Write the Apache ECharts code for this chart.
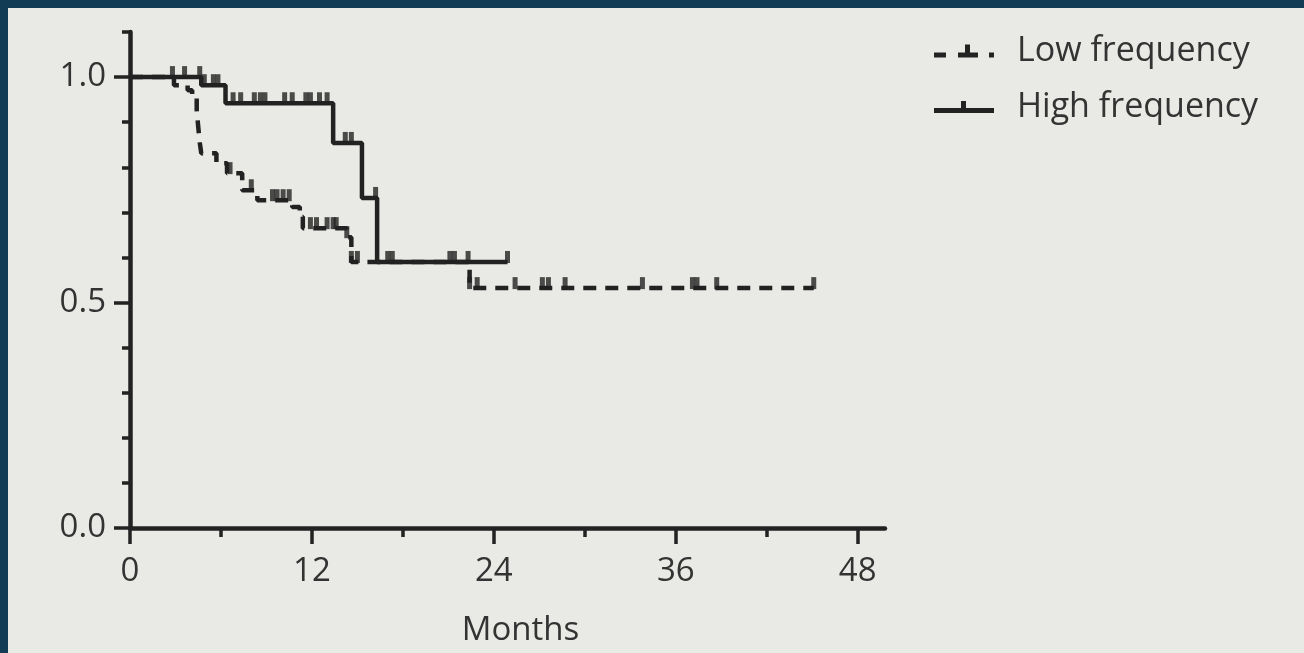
<!DOCTYPE html>
<html>
<head>
<meta charset="utf-8">
<script src="https://cdn.jsdelivr.net/npm/echarts@6/dist/echarts.min.js"></script>
<style>
  html, body { margin: 0; padding: 0; background: #123c55; width: 1304px; height: 653px; overflow: hidden; }
  #chart { position: absolute; left: 8px; top: 8px; width: 1296px; height: 645px; background: #e9e9e6; }
</style>
</head>
<body>
<div id="chart"></div>
<script>
// ---- Data ----
const seriesNames = ['Low frequency', 'High frequency'];

// Low frequency: event times (months) and survival after each step
const lowTimes = [0, 2.9, 3.8, 4.1, 4.4, 4.5, 4.6, 4.7, 5.7, 6.4, 7.4, 8.4, 10.7, 11.2, 11.4, 14.3, 14.6, 22.4, 45.1];
const lowSurv  = [1.0, 0.982, 0.971, 0.955, 0.927, 0.89, 0.855, 0.831, 0.809, 0.787, 0.749, 0.727, 0.712, 0.690, 0.665, 0.645, 0.590, 0.532, 0.532];
// Low frequency censored observations
const lowCensorTimes = [2.8, 6.6, 8.0, 9.4, 9.7, 10.1, 10.5, 11.9, 12.3, 13.0, 13.4, 13.6, 14.3, 14.6, 15.0, 22.4, 22.9, 25.4, 27.2, 27.6, 28.7, 33.8, 37.1, 37.4, 38.7, 45.1];
const lowCensorSurv  = [1.0, 0.787, 0.749, 0.727, 0.727, 0.727, 0.727, 0.665, 0.665, 0.665, 0.665, 0.665, 0.645, 0.590, 0.590, 0.532, 0.532, 0.532, 0.532, 0.532, 0.532, 0.532, 0.532, 0.532, 0.532, 0.532];

// High frequency
const highTimes = [0, 4.7, 6.3, 13.4, 15.3, 16.3, 24.9];
const highSurv  = [1.0, 0.982, 0.942, 0.854, 0.732, 0.590, 0.590];
const highCensorTimes = [3.6, 4.6, 4.9, 5.5, 5.8, 6.8, 7.3, 8.2, 8.6, 8.9, 10.2, 10.7, 11.6, 11.9, 12.5, 13.0, 14.2, 14.6, 16.2, 17.0, 17.3, 21.1, 21.4, 22.3, 24.9];
const highCensorSurv  = [1.0, 1.0, 0.982, 0.982, 0.982, 0.942, 0.942, 0.942, 0.942, 0.942, 0.942, 0.942, 0.942, 0.942, 0.942, 0.942, 0.854, 0.854, 0.732, 0.590, 0.590, 0.590, 0.590, 0.590, 0.590];

// Axis ticks
const xMajorTicks = [0, 12, 24, 36, 48];
const xMinorTicks = [6, 18, 30, 42];
const yLabelTicks = [0, 0.5, 1.0];
const xAxisName = 'Months';

// ---- Build ----
const zip = (a, b) => a.map((v, i) => [v, b[i]]);
const ink = '#222222';
const textCol = '#333333';
const font = 'Open Sans';

const chart = echarts.init(document.getElementById('chart'));
chart.setOption({
  animation: false,
  backgroundColor: 'transparent',
  grid: { left: 122, top: 24, width: 755, height: 496 },
  legend: {
    orient: 'vertical',
    left: 921, top: 21,
    itemGap: 22,
    itemWidth: 60, itemHeight: 16,
    selectedMode: false,
    textStyle: { fontFamily: font, fontSize: 34, color: textCol, padding: [0, 0, 0, 18] },
    data: [
      { name: seriesNames[0], icon: 'path://M0,9L12,9L12,14L0,14ZM24,9L44,9L44,14L24,14ZM31,1L36,1L36,9L31,9ZM55,9L60,9L60,14L55,14Z' },
      { name: seriesNames[1], icon: 'path://M0,9L60,9L60,14L0,14ZM27,2L32,2L32,9L27,9Z' }
    ]
  },
  xAxis: [
    {
      type: 'value', min: 0, max: 49.8,
      axisLine: { show: true, lineStyle: { color: ink, width: 4.5 } },
      axisTick: { show: true, customValues: xMajorTicks, length: 16, lineStyle: { color: ink, width: 3.5 } },
      axisLabel: { customValues: xMajorTicks, margin: 27, fontFamily: font, fontSize: 33, color: textCol },
      splitLine: { show: false },
      name: xAxisName, nameLocation: 'middle', nameGap: 86,
      nameTextStyle: { fontFamily: font, fontSize: 33, color: textCol, padding: [0, 0, 0, 26] }
    },
    {
      type: 'value', min: 0, max: 49.8, position: 'bottom',
      axisLine: { show: false },
      axisTick: { show: true, customValues: xMinorTicks, length: 9, lineStyle: { color: ink, width: 3.5 } },
      axisLabel: { show: false },
      splitLine: { show: false }
    }
  ],
  yAxis: [
    {
      type: 'value', min: 0, max: 1.1, interval: 0.1, position: 'left',
      axisLine: { show: true, lineStyle: { color: ink, width: 4.5 } },
      axisTick: { show: true, length: 8, lineStyle: { color: ink, width: 3.5 } },
      axisLabel: { customValues: yLabelTicks, margin: 24, fontFamily: font, fontSize: 33, color: textCol,
                   formatter: v => v.toFixed(1) },
      splitLine: { show: false }
    },
    {
      type: 'value', min: 0, max: 1.1, position: 'left',
      axisLine: { show: false },
      axisTick: { show: true, customValues: yLabelTicks, length: 16, lineStyle: { color: ink, width: 3.5 } },
      axisLabel: { show: false },
      splitLine: { show: false }
    }
  ],
  series: [
    {
      name: seriesNames[0], type: 'line', step: 'end', symbol: 'none',
      color: ink,
      lineStyle: { color: ink, width: 4.5, type: [13, 9] },
      data: zip(lowTimes, lowSurv), z: 3
    },
    {
      name: seriesNames[1], type: 'line', step: 'end', symbol: 'none',
      color: ink,
      lineStyle: { color: ink, width: 4.5, type: 'solid' },
      data: zip(highTimes, highSurv), z: 3
    },
    {
      name: 'lowCensor', type: 'scatter', symbol: 'rect', symbolSize: [5, 12], symbolOffset: [0, -5],
      itemStyle: { color: ink }, data: zip(lowCensorTimes, lowCensorSurv), z: 4
    },
    {
      name: 'highCensor', type: 'scatter', symbol: 'rect', symbolSize: [5, 12], symbolOffset: [0, -5],
      itemStyle: { color: ink }, data: zip(highCensorTimes, highCensorSurv), z: 4
    }
  ]
});
</script>
</body>
</html>
